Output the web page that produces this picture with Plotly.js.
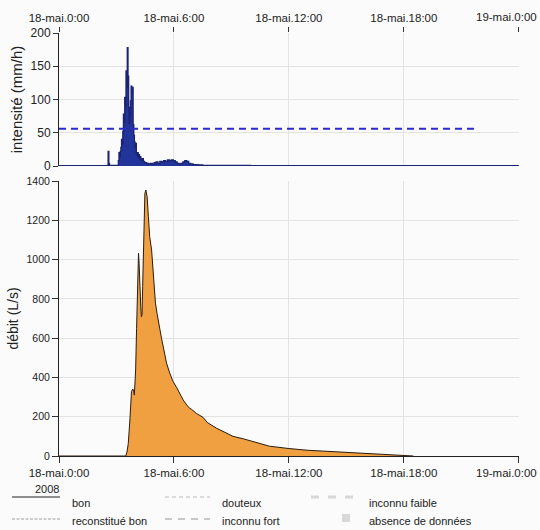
<!DOCTYPE html>
<html>
<head>
<meta charset="utf-8">
<script src="https://cdn.plot.ly/plotly-3.0.1.min.js"></script>
<style>html,body{margin:0;padding:0;background:#fbfbfb;}</style>
</head>
<body>
<div id="chart" style="width:540px;height:530px;"></div>
<script>
// ---- data ----
const day = '2008-05-18';
const tickTimes = ['00:00', '06:00', '12:00', '18:00', '24:00'];
const tickLabels = ['18-mai.0:00', '18-mai.6:00', '18-mai.12:00', '18-mai.18:00', '19-mai.0:00'];

const rainTime = ['00:00','02:30','02:32','02:34','02:36','02:38','03:04','03:06','03:08','03:10','03:12','03:14','03:16','03:18','03:20','03:22','03:24','03:26','03:28','03:30','03:32','03:34','03:36','03:38','03:40','03:42','03:44','03:46','03:48','03:50','03:52','03:54','03:56','03:58','04:00','04:02','04:04','04:06','04:08','04:10','04:12','04:14','04:16','04:20','04:24','04:28','04:34','04:40','04:46','04:52','04:58','05:04','05:10','05:16','05:22','05:28','05:34','05:40','05:46','05:52','05:58','06:04','06:10','06:16','06:22','06:28','06:34','06:40','06:46','06:52','07:00','07:15','07:30','08:00','09:00','10:00','12:00','24:00'];
const rainValue = [0.5,0.5,1,22,4,1,1,8,20,14,22,28,40,33,52,78,66,103,90,143,118,178,135,88,64,76,98,120,108,118,62,46,36,28,34,20,16,20,13,17,11,14,9,11,7,5,4,3,4,3,5,6,4,7,6,8,7,9,8,9,8,6,4,3,4,6,8,7,4,3,2,1.5,1,1,0.8,0.6,0.5,0.5];

const thresholdTime = ['00:00', '21:54'];
const thresholdValue = [56, 56];

const flowTime = ['00:00','03:29','03:33','03:37','03:42','03:47','03:51','03:54','03:56','04:00','04:03','04:05','04:07','04:09','04:11','04:13','04:16','04:18','04:20','04:22','04:24','04:26','04:29','04:32','04:34','04:36','04:40','04:44','04:50','04:55','05:00','05:01','05:02','05:07','05:14','05:16','05:21','05:26','05:37','05:47','05:57','06:08','06:18','06:29','06:40','06:49','06:55','07:10','07:31','07:45','08:13','08:45','09:05','09:36','10:00','10:59','12:00','12:33','13:00','13:46','14:30','15:30','16:00','16:42','17:00','17:30','18:00','18:30'];
const flowValue = [0,0,20,64,183,327,341,330,310,438,650,777,950,1032,980,828,760,709,720,862,1050,1201,1337,1354,1340,1320,1218,1117,1049,947,811,800,780,726,675,645,600,560,472,421,380,350,318,285,260,243,238,217,197,170,142,118,100,88,76,50,38,31,29,25,21,16,13,8,6,3,1,0];

const legendLabels = ['bon', 'reconstitué bon', 'douteux', 'inconnu fort', 'inconnu faible', 'absence de données'];
const yearLabel = '2008';

// ---- helpers ----
function d(t) {
  if (t === '24:00') return '2008-05-19 00:00';
  return day + ' ' + t;
}
const L = 59, R = 21, T = 33, B = 74, W = 540, H = 530;
const pw = W - L - R, ph = H - T - B;
const px = x => (x - L) / pw;
const py = y => (H - B - y) / ph;

const tickVals = tickTimes.map(d);
// the last label sits at the right edge: drawn as a right-aligned note so it stays inside the page
const lastIdx = tickLabels.length - 1;
const axisText = tickLabels.map((t, i) => i === lastIdx ? '' : t);

const traces = [
  {
    x: rainTime.map(d), y: rainValue, xaxis: 'x2', yaxis: 'y2',
    type: 'scatter', mode: 'lines', line: {shape: 'hv', color: '#1a2472', width: 1.4},
    fill: 'tozeroy', fillcolor: '#22339a', hoverinfo: 'skip'
  },
  {
    x: thresholdTime.map(d), y: thresholdValue, xaxis: 'x2', yaxis: 'y2',
    type: 'scatter', mode: 'lines', line: {color: '#2b2bd0', width: 2, dash: '7px,5px'}
  },
  {
    x: flowTime.map(d), y: flowValue, xaxis: 'x', yaxis: 'y',
    type: 'scatter', mode: 'lines', line: {color: '#2a1c10', width: 1},
    fill: 'tozeroy', fillcolor: '#f0a040'
  }
];

const grid = '#e3e3e3';
const tickFont = {size: 11.5, color: '#222', family: 'Liberation Sans, Arial, sans-serif'};
const axisCommon = {
  type: 'date', range: [d('00:00'), '2008-05-19 00:00:40'], tickmode: 'array',
  tickvals: tickVals, ticktext: axisText, ticks: 'outside', tickcolor: '#333',
  showgrid: true, gridcolor: grid, gridwidth: 1, zeroline: false,
  tickfont: tickFont
};

const shapes = [
  // legend samples
  {type: 'line', xref: 'paper', yref: 'paper', x0: px(12), x1: px(60), y0: py(497), y1: py(497), line: {color: '#222', width: 1}},
  {type: 'line', xref: 'paper', yref: 'paper', x0: px(12), x1: px(60), y0: py(519), y1: py(519), line: {color: '#888', width: 0.8, dash: '3px,1.5px'}},
  {type: 'line', xref: 'paper', yref: 'paper', x0: px(165), x1: px(210), y0: py(497), y1: py(497), line: {color: '#bbb', width: 1, dash: '4px,3px'}},
  {type: 'line', xref: 'paper', yref: 'paper', x0: px(165), x1: px(210), y0: py(519), y1: py(519), line: {color: '#c8c8c8', width: 2, dash: '7px,6px'}},
  {type: 'line', xref: 'paper', yref: 'paper', x0: px(311), x1: px(357), y0: py(497), y1: py(497), line: {color: '#d8d8d8', width: 3, dash: '8px,9px'}},
  {type: 'rect', xref: 'paper', yref: 'paper', x0: px(342), x1: px(350), y0: py(522), y1: py(514), line: {width: 0}, fillcolor: '#d8d8d8'}
];

const annFont = {size: 11, color: '#222', family: 'Liberation Sans, Arial, sans-serif'};
const legPos = [[70, 503], [70, 521], [220, 503], [220, 521], [367, 503], [367, 521]];
const annotations = legendLabels.map((t, i) => ({
  text: t, xref: 'paper', yref: 'paper', x: px(legPos[i][0]), y: py(legPos[i][1]),
  xanchor: 'left', yanchor: 'middle', showarrow: false, font: annFont
}));
annotations.push({
  text: yearLabel, xref: 'paper', yref: 'paper', x: px(61), y: py(489),
  xanchor: 'right', yanchor: 'middle', showarrow: false, font: annFont
});
// last tick label, top and bottom axes
[17, 473].forEach(yy => annotations.push({
  text: tickLabels[lastIdx], xref: 'paper', yref: 'paper', x: px(539), y: py(yy),
  xanchor: 'right', yanchor: 'middle', showarrow: false, font: tickFont
}));

const layout = {
  width: W, height: H,
  margin: {l: L, r: R, t: T, b: B},
  paper_bgcolor: '#fbfbfb', plot_bgcolor: '#fbfbfb',
  showlegend: false,
  font: {family: 'Liberation Sans, Arial, sans-serif', color: '#222'},
  xaxis: Object.assign({}, axisCommon, {anchor: 'y', ticklen: 6, showline: true, linecolor: '#222', linewidth: 1}),
  xaxis2: Object.assign({}, axisCommon, {anchor: 'y2', side: 'top', ticklen: 5, showline: false, matches: 'x'}),
  yaxis: {
    domain: [0, 1 - 148 / ph], range: [0, 1400], tickmode: 'array',
    tickvals: [0, 200, 400, 600, 800, 1000, 1200, 1400],
    ticks: 'outside', ticklen: 6, tickcolor: '#333', showline: true, linecolor: '#222', linewidth: 1,
    showgrid: true, gridcolor: grid, zeroline: false, tickfont: {size: 10.5, color: '#222'},
    title: {text: 'débit (L/s)', font: {size: 14, color: '#222'}, standoff: 4}
  },
  yaxis2: {
    domain: [1 - 133 / ph, 1], range: [0, 200], tickmode: 'array',
    tickvals: [0, 50, 100, 150, 200],
    ticks: 'outside', ticklen: 5, tickcolor: '#333', showline: true, linecolor: '#222', linewidth: 1,
    showgrid: true, gridcolor: grid, zeroline: false, tickfont: {size: 12, color: '#222'},
    title: {text: 'intensité (mm/h)', font: {size: 15, color: '#222'}, standoff: 4}
  },
  shapes: shapes,
  annotations: annotations
};

Plotly.newPlot('chart', traces, layout, {displayModeBar: false, staticPlot: true});
</script>
</body>
</html>
